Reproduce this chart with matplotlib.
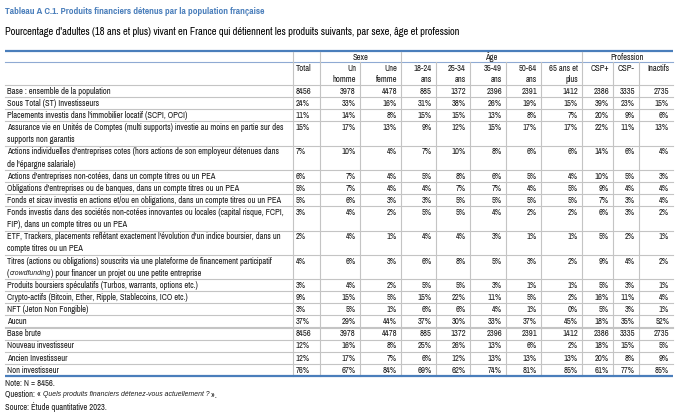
import matplotlib
matplotlib.use("Agg")
import matplotlib.pyplot as plt
from matplotlib import font_manager as fm

ttf = fm.fontManager.ttflist
names = {f.name for f in ttf}
prefs = ["Liberation Sans Narrow", "Arial Narrow", "Pragati Narrow", "Archivo Narrow",
         "Roboto Condensed", "PT Sans Narrow", "Liberation Sans"]
NARROW = next(n for n in prefs if n in names)
plt.rcParams['font.family'] = [NARROW, 'Liberation Sans', 'DejaVu Sans']
ITALIC_KW = dict(style='italic', family=['Liberation Sans', 'DejaVu Sans'])

title = "Tableau A C.1. Produits financiers détenus par la population française"
subtitle = ("Pourcentage d'adultes (18 ans et plus) vivant en France qui détiennent "
            "les produits suivants, par sexe, âge et profession")

groups = ["Sexe", "Âge", "Profession"]
columns = ["Total", "Un\nhomme", "Une\nfemme", "18-24\nans", "25-34\nans", "35-49\nans",
           "50-64\nans", "65 ans et\nplus", "CSP+", "CSP-", "Inactifs"]

row_labels = [
    "Base : ensemble de la population",
    "Sous Total (ST) Investisseurs",
    "Placements investis dans l'immobilier locatif (SCPI, OPCI)",
    "Assurance vie en Unités de Comptes (multi supports) investie au moins en partie sur des\nsupports non garantis",
    "Actions individuelles d'entreprises cotes (hors actions de son employeur détenues dans\nde l'épargne salariale)",
    "Actions d'entreprises non-cotées, dans un compte titres ou un PEA",
    "Obligations d'entreprises ou de banques, dans un compte titres ou un PEA",
    "Fonds et sicav investis en actions et/ou en obligations, dans un compte titres ou un PEA",
    "Fonds investis dans des sociétés non-cotées innovantes ou locales (capital risque, FCPI,\nFIP), dans un compte titres ou un PEA",
    "ETF, Trackers, placements reflétant exactement l'évolution d'un indice boursier, dans un\ncompte titres ou un PEA",
    "Titres (actions ou obligations) souscrits via une plateforme de financement participatif\n(|crowdfunding|) pour financer un projet ou une petite entreprise",
    "Produits boursiers spéculatifs (Turbos, warrants, options etc.)",
    "Crypto-actifs (Bitcoin, Ether, Ripple, Stablecoins, ICO etc.)",
    "NFT (Jeton Non Fongible)",
    "Aucun",
    "Base brute",
    "Nouveau investisseur",
    "Ancien Investisseur",
    "Non investisseur",
]

base = [8456, 3978, 4478, 885, 1372, 2396, 2391, 1412, 2386, 3335, 2735]
st_invest = [24, 33, 16, 31, 38, 26, 19, 15, 39, 23, 15]
immobilier = [11, 14, 8, 15, 15, 13, 8, 7, 20, 9, 6]
assurance = [15, 17, 13, 9, 12, 15, 17, 17, 22, 11, 13]
actions_cotees = [7, 10, 4, 7, 10, 8, 6, 6, 14, 6, 4]
actions_non_cotees = [6, 7, 4, 5, 8, 6, 5, 4, 10, 5, 3]
obligations = [5, 7, 4, 4, 7, 7, 4, 5, 9, 4, 4]
fonds_sicav = [5, 6, 3, 3, 5, 5, 5, 5, 7, 3, 4]
fonds_non_cotes = [3, 4, 2, 5, 5, 4, 2, 2, 6, 3, 2]
etf = [2, 4, 1, 4, 4, 3, 1, 1, 5, 2, 1]
crowdfunding = [4, 6, 3, 6, 8, 5, 3, 2, 9, 4, 2]
speculatifs = [3, 4, 2, 5, 5, 3, 1, 1, 5, 3, 1]
crypto = [9, 15, 5, 15, 22, 11, 5, 2, 16, 11, 4]
nft = [3, 5, 1, 6, 6, 4, 1, 0, 5, 3, 1]
aucun = [37, 29, 44, 37, 30, 33, 37, 45, 18, 35, 52]
base_brute = [8456, 3978, 4478, 885, 1372, 2396, 2391, 1412, 2386, 3335, 2735]
nouveau = [12, 16, 8, 25, 26, 13, 6, 2, 18, 15, 5]
ancien = [12, 17, 7, 6, 12, 13, 13, 13, 20, 8, 9]
non_invest = [76, 67, 84, 69, 62, 74, 81, 85, 61, 77, 85]

rows = [base, st_invest, immobilier, assurance, actions_cotees, actions_non_cotees,
        obligations, fonds_sicav, fonds_non_cotes, etf, crowdfunding, speculatifs,
        crypto, nft, aucun, base_brute, nouveau, ancien, non_invest]
is_count = [True] + [False] * 14 + [True] + [False] * 3

notes = ["Note: N = 8456.",
         "Question: « |Quels produits financiers détenez-vous actuellement ?| ».",
         "Source: Étude quantitative 2023."]

# ---- layout (pixels) ----
W, H = 680, 413
fig = plt.figure(figsize=(W / 100, H / 100), dpi=100)
ax = fig.add_axes([0, 0, 1, 1])
ax.set_xlim(0, W)
ax.set_ylim(H, 0)
ax.axis('off')
fig.canvas.draw()
renderer = fig.canvas.get_renderer()

BLUE = "#4A7EBB"
GRID = "#C4C4C4"
TXT = "#1a1a1a"


def measure(s, fs, **kw):
    t = ax.text(0, 0, s, fontsize=fs, **kw)
    w = t.get_window_extent(renderer=renderer).width
    t.remove()
    return w


def fit_size(s, target_px, ref=8.0, **kw):
    return ref * target_px / measure(s, ref, **kw)


FS = min(fit_size("Base : ensemble de la population", 111),
         fit_size("Fonds et sicav investis en actions et/ou en obligations, dans un compte titres ou un PEA", 276),
         fit_size("Assurance vie en Unités de Comptes (multi supports) investie au moins en partie sur des", 276),
         fit_size("Titres (actions ou obligations) souscrits via une plateforme de financement participatif", 276),
         7.2)
_sample = "Quels produits financiers détenez-vous actuellement ?"
FS_I = min(fit_size(_sample, 166, **ITALIC_KW), FS)
FS_T = min(fit_size(title, 262, fontweight='bold'), 9.5)
FS_S = min(fit_size(subtitle, 485), 8.2)

x_left, x_right = 5, 673
col_edges = [293, 320, 360, 401, 436, 470, 506, 541, 582, 613, 639, 673]
group_spans = [(320, 401), (401, 582), (582, 673)]

y_top = 51
y_grp = 62
y_body = 85
y_end = 376
n_lines = [len(r.split("\n")) for r in row_labels]
unit = (y_end - y_body) / sum(n_lines)


def rich_text(x, y, s, fs, color=TXT, va='center'):
    """Text where |...| segments are italic."""
    parts = s.split("|")
    cx = x
    for i, p in enumerate(parts):
        if not p:
            continue
        if i % 2:
            t = ax.text(cx, y, p, fontsize=FS_I, color=color, va=va, ha='left', **ITALIC_KW)
        else:
            t = ax.text(cx, y, p, fontsize=fs, color=color, va=va, ha='left')
        bb = t.get_window_extent(renderer=renderer)
        cx += bb.width


# title / subtitle
ax.text(5, 11, title, fontsize=FS_T, fontweight='bold', color=BLUE, va='center', ha='left')
ax.text(5, 32, subtitle, fontsize=FS_S, color='black', va='center', ha='left')

# header lines
ax.plot([x_left, x_right], [y_top, y_top], color=BLUE, lw=1.6, solid_capstyle='butt')
ax.plot([x_left, x_right], [y_grp, y_grp], color="#8FAAD3", lw=0.8)
ax.plot([x_left, x_right], [y_body, y_body], color=GRID, lw=0.8)

for (a, b), g in zip(group_spans, groups):
    ax.text((a + b) / 2, (y_top + y_grp) / 2 + 0.5, g, fontsize=FS, color=TXT, ha='center', va='center')
for xe in [293, 320, 401, 582]:
    ax.plot([xe, xe], [y_top + 1, y_grp], color=GRID, lw=0.8)
for xe in col_edges[:-1]:
    ax.plot([xe, xe], [y_grp, y_end], color=GRID, lw=0.8)

for j, c in enumerate(columns):
    a, b = col_edges[j], col_edges[j + 1]
    for k, line in enumerate(c.split("\n")):
        if j == 0:
            ax.text(a + 3, y_grp + 6.5 + 11.5 * k, line, fontsize=FS, color=TXT, ha='left', va='center')
        else:
            ax.text(b - 4, y_grp + 6.5 + 11.5 * k, line, fontsize=FS, color=TXT, ha='right', va='center')

# body
y = y_body
for i, (lab, vals) in enumerate(zip(row_labels, rows)):
    h = n_lines[i] * unit
    for k, line in enumerate(lab.split("\n")):
        rich_text(7, y + unit / 2 + k * unit + 0.3, line, FS)
    for j, v in enumerate(vals):
        s = f"{v}" if is_count[i] else f"{v}%"
        a, b = col_edges[j], col_edges[j + 1]
        if j == 0:
            ax.text(a + 3, y + unit / 2 + 0.3, s, fontsize=FS, color=TXT, ha='left', va='center')
        else:
            ax.text(b - 4, y + unit / 2 + 0.3, s, fontsize=FS, color=TXT, ha='right', va='center')
    y += h
    if i == len(row_labels) - 1:
        break
    if i == 14:
        ax.plot([x_left, x_right], [y - 0.8, y - 0.8], color=GRID, lw=0.8)
        ax.plot([x_left, x_right], [y + 0.8, y + 0.8], color=GRID, lw=0.8)
    else:
        ax.plot([x_left, x_right], [y, y], color=GRID, lw=0.8)

ax.plot([x_left, x_right], [y_end, y_end], color=BLUE, lw=1.6, solid_capstyle='butt')

for k, n in enumerate(notes):
    rich_text(5, 383 + k * 12, n, FS)

fig.savefig("out.png", dpi=100)
